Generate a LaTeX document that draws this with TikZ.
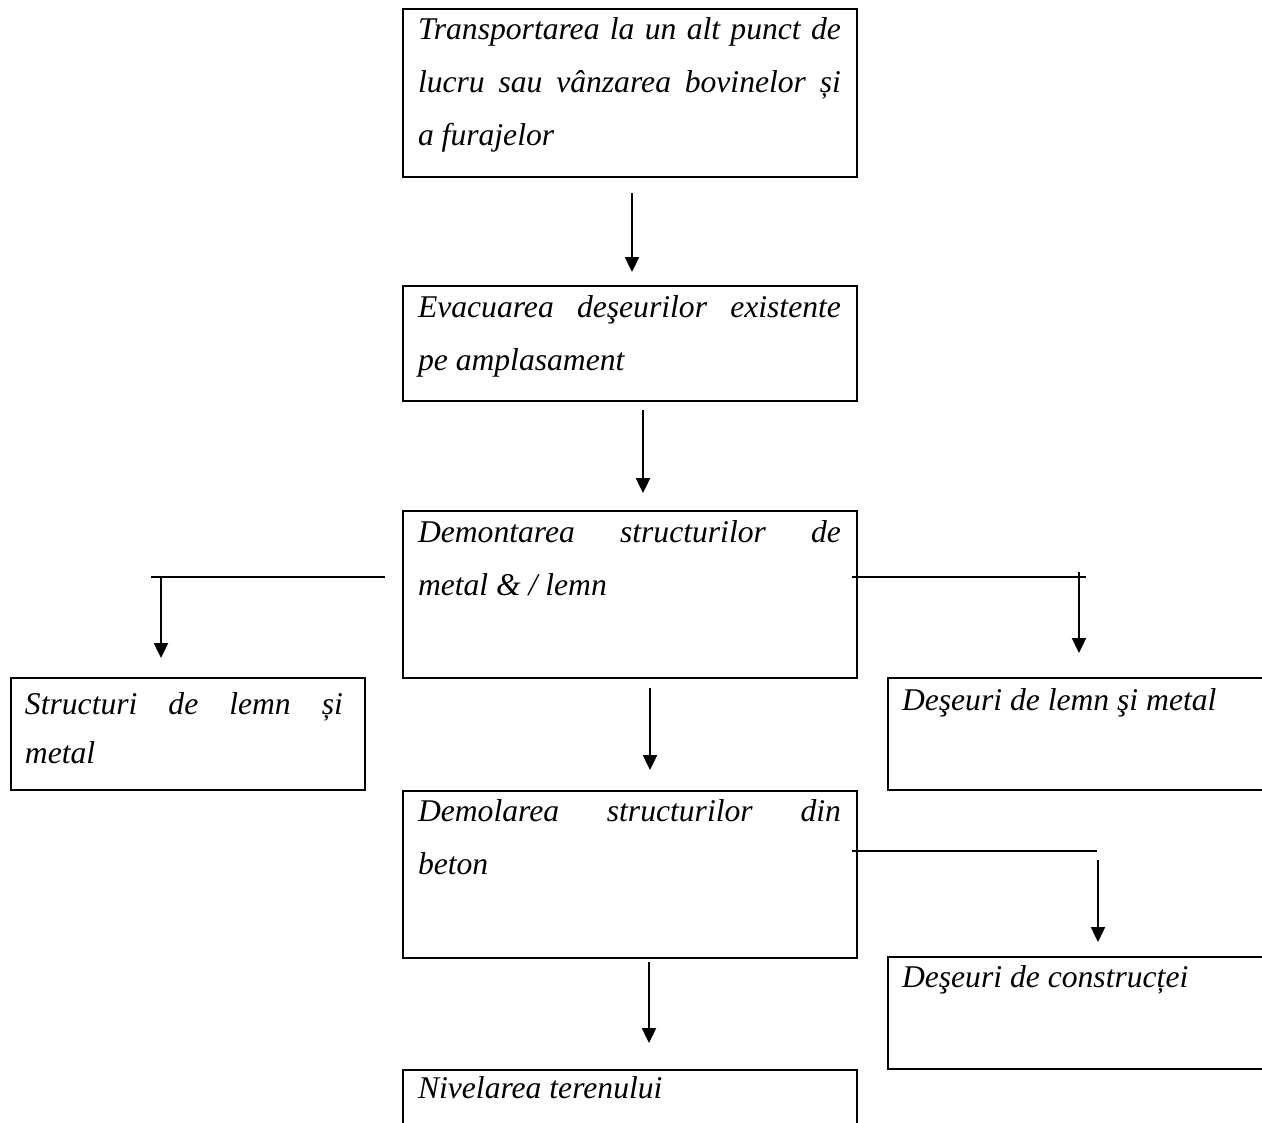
\documentclass[tikz,border=0pt]{standalone}
\usepackage{fontspec}
\setmainfont{Liberation Serif}
\usetikzlibrary{arrows.meta,calc}
\newcommand{\jl}[2]{\makebox[#1][s]{#2}}
\begin{document}
\begin{tikzpicture}[x=0.02cm,y=-0.02cm,
  box/.style={draw,line width=1.1pt,inner sep=0pt,outer sep=0pt,anchor=north west},
  txt/.style={anchor=base west,inner sep=0pt,outer sep=0pt,font=\fontsize{18}{30.4}\selectfont\itshape},
  ln/.style={line width=1.1pt},
  arr/.style={line width=1.1pt,-{Triangle[length=8.5pt,width=8pt]}}]
\useasboundingbox (0,0) rectangle (1262,1123);
\clip (0,0) rectangle (1262,1123);

% boxes
\node[box,minimum width=454*0.02cm,minimum height=168*0.02cm] (b1) at (403,9) {};
\node[box,minimum width=454*0.02cm,minimum height=115*0.02cm] (b2) at (403,286) {};
\node[box,minimum width=454*0.02cm,minimum height=167*0.02cm] (b3) at (403,511) {};
\node[box,minimum width=354*0.02cm,minimum height=112*0.02cm] (b4) at (11,678) {};
\node[box,minimum width=400*0.02cm,minimum height=112*0.02cm] (b5) at (888,678) {};
\node[box,minimum width=454*0.02cm,minimum height=167*0.02cm] (b6) at (403,791) {};
\node[box,minimum width=400*0.02cm,minimum height=112*0.02cm] (b7) at (888,957) {};
\node[box,minimum width=454*0.02cm,minimum height=90*0.02cm] (b8) at (403,1070) {};

% texts
\node[txt] (t1) at (418,39) {\parbox[t]{8.46cm}{\jl{8.46cm}{Transportarea la un alt punct de}\\\jl{8.46cm}{lucru sau vânzarea bovinelor și}\\a furajelor}};
\node[txt] (t2) at (418,317) {\parbox[t]{8.46cm}{\jl{8.46cm}{Evacuarea deşeurilor existente}\\pe amplasament}};
\node[txt] (t3) at (418,542) {\parbox[t]{8.46cm}{\jl{8.46cm}{Demontarea structurilor de}\\metal \& / lemn}};
\node[txt,font=\fontsize{18}{27.9}\selectfont\itshape] (t4) at (25,714) {\parbox[t]{6.36cm}{\jl{6.36cm}{Structuri de lemn și}\\metal}};
\node[txt] (t5) at (902,710) {Deşeuri de lemn şi metal};
\node[txt] (t6) at (418,821) {\parbox[t]{8.46cm}{\jl{8.46cm}{Demolarea structurilor din}\\beton}};
\node[txt] (t7) at (902,987) {Deşeuri de construcței};
\node[txt] (t8) at (418,1098) {Nivelarea terenului};

% main vertical arrows
\draw[arr] ($(b1.south)+(2,16)$) -- ($(b2.north)+(2,-14)$);
\draw[arr] ($(b2.south)+(13,9)$) -- ($(b3.north)+(13,-18)$);
\draw[arr] ($(b3.south)+(20,10)$) -- ($(b6.north)+(20,-21)$);
\draw[arr] ($(b6.south)+(19,4)$) -- ($(b8.north)+(19,-27)$);

% left branch
\coordinate (la) at (385,577);
\coordinate (lb) at (151,577);
\coordinate (lc) at (161,577);
\draw[ln] (la) -- (lb);
\draw[arr] (lc) -- ($(b4.north west)+(150,-20)$);

% right branch
\coordinate (ra) at (852,577);
\coordinate (rb) at (1086,577);
\coordinate (rc) at (1079,572);
\draw[ln] (ra) -- (rb);
\draw[arr] (rc) -- ($(b5.north west)+(191,-25)$);

% lower right branch
\coordinate (sa) at (852,851);
\coordinate (sb) at (1097,851);
\coordinate (sc) at (1098,860);
\draw[ln] (sa) -- (sb);
\draw[arr] (sc) -- ($(b7.north west)+(210,-15)$);
\end{tikzpicture}
\end{document}
